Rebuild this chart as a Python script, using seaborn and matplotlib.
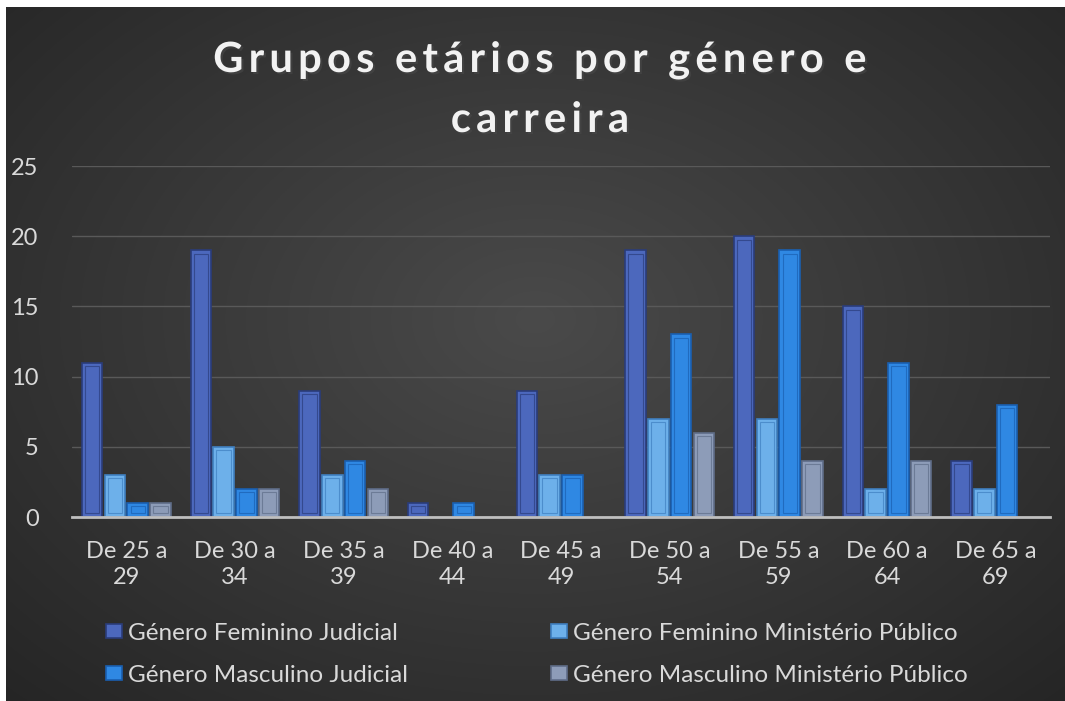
import numpy as np
import pandas as pd
import matplotlib
matplotlib.use("Agg")
import matplotlib.pyplot as plt
import matplotlib.patheffects as pe
from matplotlib.patches import Rectangle
import seaborn as sns

# data
faixas = ["De 25 a\n29", "De 30 a\n34", "De 35 a\n39", "De 40 a\n44", "De 45 a\n49",
          "De 50 a\n54", "De 55 a\n59", "De 60 a\n64", "De 65 a\n69"]
series = ["Género Feminino Judicial", "Género Feminino Ministério Público",
          "Género Masculino Judicial", "Género Masculino Ministério Público"]
fem_judicial = [11, 19, 9, 1, 9, 19, 20, 15, 4]
fem_mp = [3, 5, 3, 0, 3, 7, 7, 2, 2]
masc_judicial = [1, 2, 4, 1, 3, 13, 19, 11, 8]
masc_mp = [1, 2, 2, 0, 0, 6, 4, 4, 0]
cores = ["#4c68bd", "#6db0ea", "#2f88e3", "#8d9cb8"]
bordas = ["#2a3c7a", "#3f7fc0", "#1a5fb0", "#5f6d88"]
titulo = ["Grupos etários por género e", "carreira"]

rows = []
for s, vals in zip(series, [fem_judicial, fem_mp, masc_judicial, masc_mp]):
    for f, v in zip(faixas, vals):
        rows.append({"faixa": f, "serie": s, "valor": v})
df = pd.DataFrame(rows)

sns.set_theme(style="dark")
plt.rcParams['font.family'] = ['Lato', 'DejaVu Sans']

fig = plt.figure(figsize=(10.65, 7.01), dpi=100)
fig.patch.set_facecolor("white")

# radial gradient background
bg = fig.add_axes([6 / 1065, 0, 1 - 6 / 1065, 1 - 7 / 701], zorder=-5)
yy, xx = np.mgrid[0:1:400j, 0:1:600j]
r = np.sqrt(((xx - 0.5) / 0.75) ** 2 + ((yy - 0.55) / 0.8) ** 2)
g = np.clip(0.29 - 0.15 * r, 0.14, 0.29)
bg.imshow(np.dstack([g, g, g]), aspect="auto", extent=[0, 1, 0, 1], origin="lower")
bg.axis("off")

ax = fig.add_axes([72 / 1065, 1 - 517 / 701, (1050 - 72) / 1065, (517 - 166) / 701])
ax.patch.set_alpha(0)
sns.barplot(data=df, x="faixa", y="valor", hue="serie", palette=cores,
            width=0.84, gap=0.1, ax=ax, legend=True, saturation=1)

# bar outlines with an inner bevel line
for i, cont in enumerate(ax.containers):
    for p in cont.patches:
        if p.get_height() <= 0:
            p.set_visible(False)
            continue
        p.set_edgecolor(bordas[i])
        p.set_linewidth(1.2)
        x0, w, h = p.get_x(), p.get_width(), p.get_height()
        inset = Rectangle((x0 + w * 0.15, 0.25), w * 0.7, max(h - 0.5, 0.05),
                          fill=False, edgecolor=bordas[i], linewidth=0.8, alpha=0.7)
        ax.add_patch(inset)

ax.set_ylim(0, 25)
ax.set_xlim(-0.5, len(faixas) - 0.5)
ax.set_yticks([0, 5, 10, 15, 20, 25])
ax.yaxis.grid(True, color="#595959", linewidth=1)
ax.xaxis.grid(False)
ax.set_axisbelow(True)
for s in ["top", "right", "left"]:
    ax.spines[s].set_visible(False)
ax.spines["bottom"].set_color("#bfbfbf")
ax.spines["bottom"].set_linewidth(2)
ax.tick_params(axis="both", length=0, colors="#d9d9d9", labelsize=17)
ax.tick_params(axis="y", pad=24)
ax.tick_params(axis="x", pad=17)
for t in ax.get_xticklabels():
    t.set_linespacing(1.3)
ax.set_xlabel("")
ax.set_ylabel("")

h, l = ax.get_legend_handles_labels()
order = [0, 2, 1, 3]
handles = [h[k] for k in order]
for k, hd in zip(order, handles):
    hd.set_edgecolor(bordas[k])
    hd.set_linewidth(1.2)
leg = ax.legend(handles, [l[k] for k in order], ncol=2,
                loc="upper left", bbox_to_anchor=(84 / 1065, 1 - 601 / 701),
                bbox_transform=fig.transFigure, frameon=False,
                fontsize=17.5, labelcolor="#d9d9d9", handlelength=0.65, handleheight=0.5,
                handletextpad=0.25, columnspacing=5.9, labelspacing=0.85)

# wide letter spacing like the original title
sombra = [pe.withSimplePatchShadow(offset=(1.5, -1.5), alpha=0.6)]
for linha, yb in zip(titulo, [1 - 72 / 701, 1 - 132 / 701]):
    fig.text(0.507, yb, "\u2009".join(linha), ha="center", va="baseline",
             fontsize=30, fontweight="bold", color="#f2f2f2", path_effects=sombra)

fig.savefig("out.png", dpi=100, facecolor=fig.get_facecolor())
